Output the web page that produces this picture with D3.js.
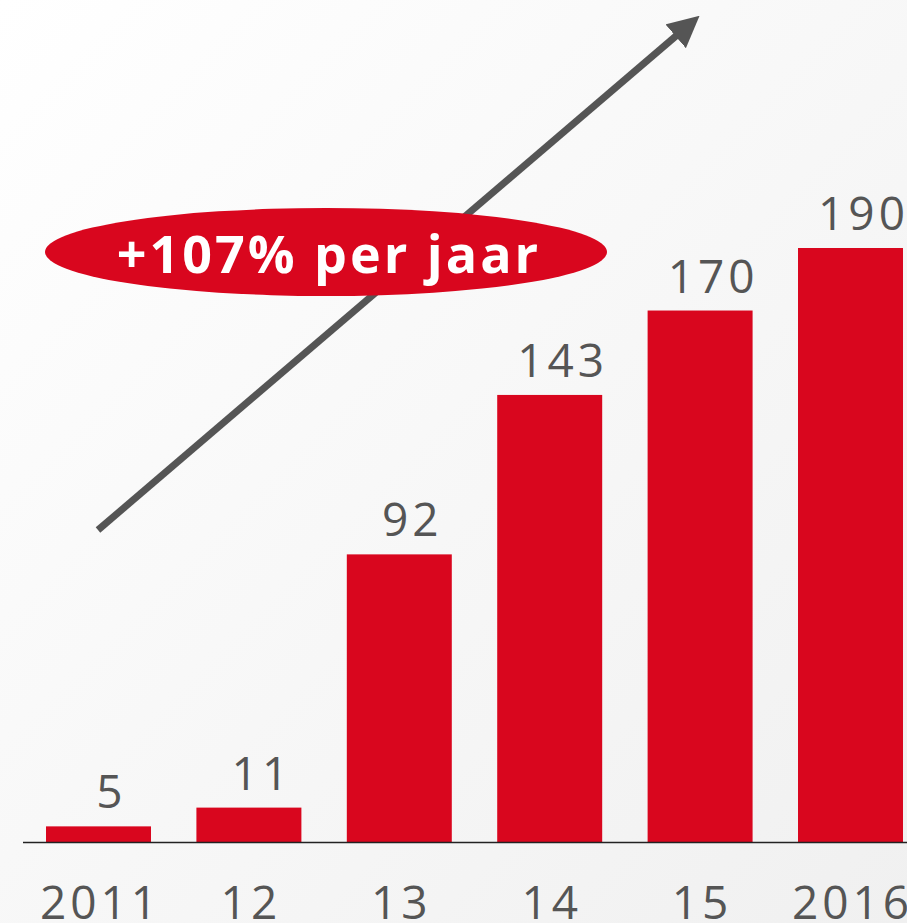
<!DOCTYPE html>
<html>
<head>
<meta charset="utf-8">
<script src="https://cdn.jsdelivr.net/npm/d3@7"></script>
<style>
  html, body { margin: 0; padding: 0; }
  body { width: 907px; height: 923px; overflow: hidden; }
</style>
</head>
<body>
<div id="chart"></div>
<script>
// data
var years = ["2011", "12", "13", "14", "15", "2016"];
var values = [5, 11, 92, 143, 170, 190];
var growthLabel = "+107% per jaar";

const width = 907, height = 923;
const baseline = 842;

const svg = d3.select("#chart")
    .append("svg")
    .attr("width", width)
    .attr("height", height)

// soft grey background
const defs = svg.append("defs")
const bg = defs.append("linearGradient")
    .attr("id", "bg")
    .attr("x1", "0%").attr("y1", "0%")
    .attr("x2", "100%").attr("y2", "100%")
bg.append("stop").attr("offset", "0%").attr("stop-color", "#ffffff")
bg.append("stop").attr("offset", "100%").attr("stop-color", "#f0f0f0")

svg.append("rect")
    .attr("width", width)
    .attr("height", height)
    .attr("fill", "url(#bg)")

const x = d3.scaleBand()
    .domain(years)
    .range([23.3, 925.7])
    .paddingInner(0.302)
    .paddingOuter(0.151)

const y = d3.scaleLinear()
    .domain([0, 190])
    .range([baseline, 248])

const bars = years.map((yr, i) => ({ year: yr, value: values[i] }))

// bars
svg.append("g")
    .selectAll("rect")
    .data(bars)
    .join("rect")
    .attr("x", d => x(d.year))
    .attr("y", d => y(d.value))
    .attr("width", x.bandwidth())
    .attr("height", d => baseline - y(d.value))
    .attr("fill", "#d9061e")

// baseline
svg.append("line")
    .attr("x1", 23).attr("x2", width)
    .attr("y1", baseline + 0.5).attr("y2", baseline + 0.5)
    .attr("stroke", "#222")
    .attr("stroke-width", 1.5)

// value labels (sit a bit right of the bar centre in the original)
svg.append("g")
    .selectAll("text")
    .data(bars)
    .join("text")
    .attr("x", d => x(d.year) + x.bandwidth() / 2 + 13)
    .attr("y", d => y(d.value) - 18)
    .attr("text-anchor", "middle")
    .attr("font-family", "'Open Sans', sans-serif")
    .attr("font-size", 46)
    .attr("letter-spacing", 4)
    .attr("fill", "#555")
    .text(d => d.value)

// year labels
const xAxis = svg.append("g")
    .attr("transform", "translate(0," + baseline + ")")
    .call(d3.axisBottom(x).tickSize(0).tickPadding(0))
xAxis.select(".domain").remove()
xAxis.selectAll("text")
    .attr("dy", null)
    .attr("x", 2)
    .attr("y", 77)
    .attr("font-family", "'Open Sans', sans-serif")
    .attr("font-size", 46)
    .attr("letter-spacing", 4)
    .attr("fill", "#555")

// growth arrow
defs.append("marker")
    .attr("id", "head")
    .attr("viewBox", "0 0 10 10")
    .attr("refX", 6).attr("refY", 5)
    .attr("markerWidth", 4.5).attr("markerHeight", 4.5)
    .attr("markerUnits", "strokeWidth")
    .attr("orient", "auto")
    .append("path")
    .attr("d", "M0,0 L10,5 L0,10 Z")
    .attr("fill", "#555")

svg.append("line")
    .attr("x1", 98).attr("y1", 530)
    .attr("x2", 690).attr("y2", 24)
    .attr("stroke", "#555")
    .attr("stroke-width", 7)
    .attr("marker-end", "url(#head)")

// ellipse badge
svg.append("ellipse")
    .attr("cx", 326).attr("cy", 252)
    .attr("rx", 281).attr("ry", 44)
    .attr("fill", "#d9061e")

svg.append("text")
    .attr("x", 329).attr("y", 273)
    .attr("text-anchor", "middle")
    .attr("font-family", "'Open Sans', sans-serif")
    .attr("font-weight", "bold")
    .attr("font-size", 52)
    .attr("letter-spacing", 3)
    .attr("fill", "#fff")
    .text(growthLabel)
</script>
</body>
</html>
